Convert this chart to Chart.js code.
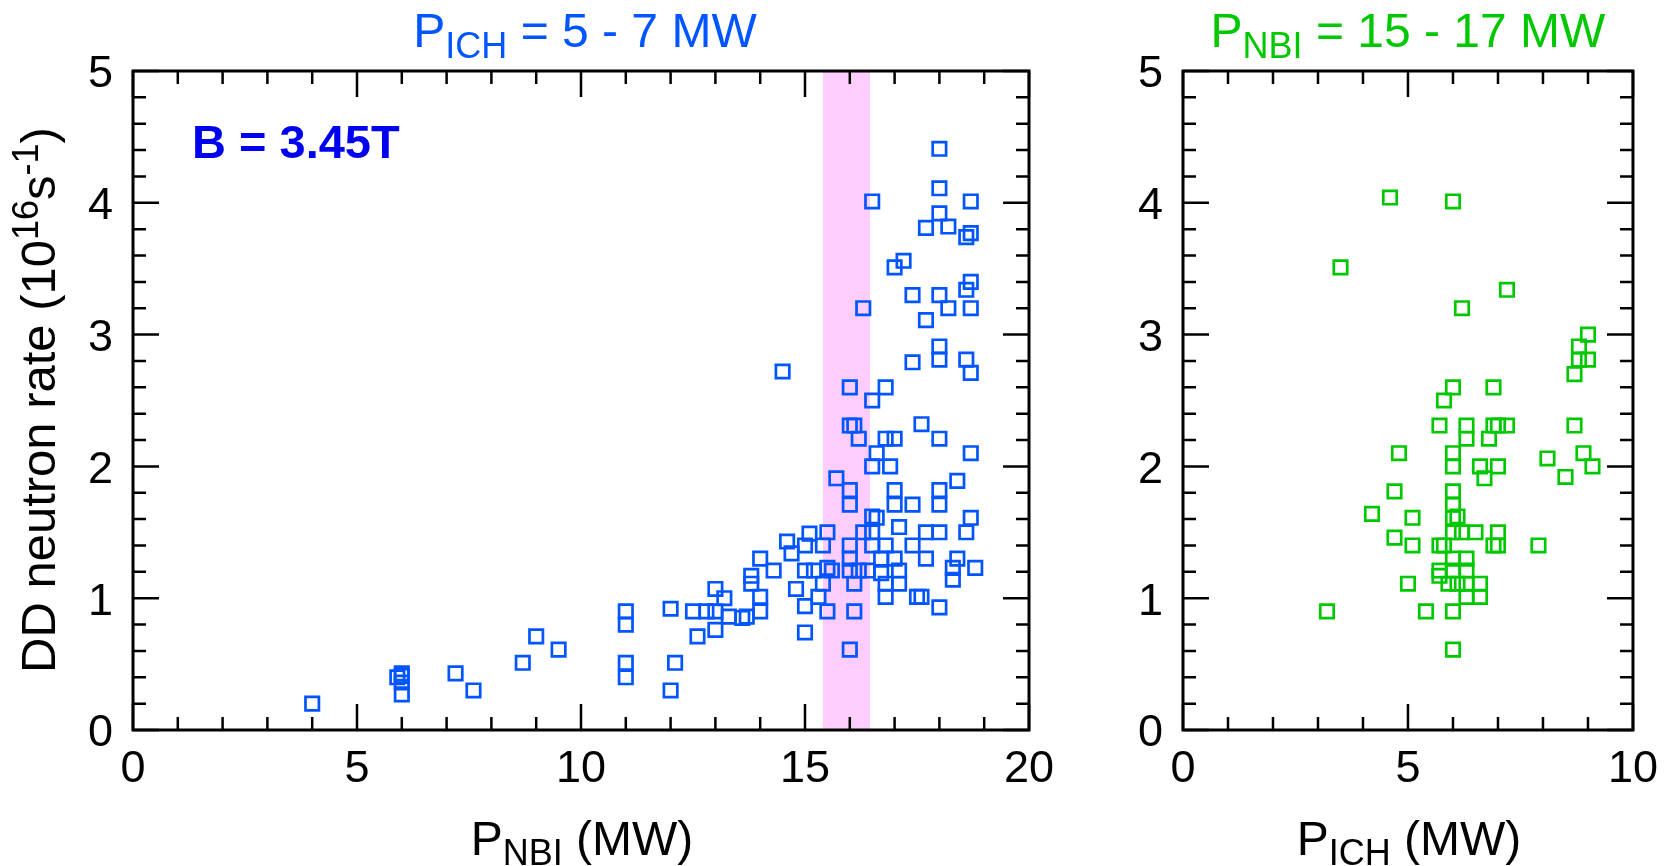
<!DOCTYPE html>
<html>
<head>
<meta charset="utf-8">
<script src="https://cdn.jsdelivr.net/npm/chart.js@4/dist/chart.umd.min.js"></script>
<style>
  html, body { margin: 0; padding: 0; background: #fff; }
  #wrap { position: relative; width: 1671px; height: 866px; }
  #left { position: absolute; left: 0; top: 0; }
  #right { position: absolute; left: 1080px; top: 0; }
</style>
</head>
<body>
<div id="wrap">
  <canvas id="left" width="1080" height="866"></canvas>
  <canvas id="right" width="591" height="866"></canvas>
</div>
<script>
// Left panel: P_ICH = 5 - 7 MW, neutron rate vs NBI power
const nbiPower = [
  4.0, 5.9, 6.0, 6.0, 6.0, 6.0, 7.2, 7.6, 8.7, 9.0, 9.5,
  11.0, 11.0, 11.0, 11.0, 12.0, 12.1, 12.0, 12.5, 12.6, 12.8,
  13.0, 13.0, 13.2, 13.0, 13.3, 13.6, 13.7, 13.8, 13.8, 14.0, 14.0, 14.0,
  14.3, 14.6, 14.7, 14.8, 15.0, 15.0, 15.0, 15.1, 15.0,
  15.5, 16.3, 16.5, 17.7, 18.0, 18.6,
  15.4, 16.0, 16.5, 16.8, 17.4,
  16.0, 16.7, 17.0, 17.7, 18.4,
  18.3, 18.8, 15.2, 15.5, 15.6, 16.0, 16.2, 16.4, 16.7, 17.1,
  16.8, 17.1, 18.3, 15.4, 16.1,
  15.3, 16.8, 17.5, 17.6,
  15.5, 16.1, 18.0, 16.0,
  16.5, 16.6, 17.1, 18.7,
  15.7, 16.0, 16.0, 17.0, 17.0, 17.4, 18.0, 18.0, 18.4,
  16.6, 16.5, 16.9, 18.7,
  16.2, 16.8, 17.0, 18.0, 17.6, 16.0, 16.1,
  16.5, 16.0, 16.8, 14.5,
  18.0, 18.0, 18.6, 18.7, 17.4,
  17.7, 18.2, 18.7, 16.3, 17.4, 18.0, 18.6, 18.7,
  17.0, 17.2, 18.6, 18.7, 17.7, 18.2, 18.0,
  16.5, 18.7, 18.0, 18.0
];
const nbiRate = [
  0.20, 0.40, 0.43, 0.41, 0.36, 0.27, 0.43, 0.30, 0.51, 0.71, 0.61,
  0.90, 0.80, 0.51, 0.40, 0.92, 0.51, 0.30, 0.90, 0.71, 0.90,
  1.07, 0.76, 1.00, 0.90, 0.86, 0.85, 0.86, 1.17, 1.11, 1.30, 1.01, 0.90,
  1.21, 1.43, 1.34, 1.07, 1.21, 0.94, 0.74, 1.49, 1.40,
  1.50, 1.50, 1.50, 1.50, 1.50, 1.50,
  1.40, 1.40, 1.40, 1.40, 1.40,
  1.30, 1.30, 1.30, 1.30, 1.30,
  1.23, 1.23, 1.21, 1.23, 1.21, 1.21, 1.21, 1.21, 1.19, 1.21,
  1.11, 1.11, 1.14, 1.11, 1.11,
  1.01, 1.01, 1.01, 1.01,
  0.90, 0.90, 0.93, 0.61,
  1.62, 1.61, 1.54, 1.61,
  1.91, 1.82, 1.71, 1.82, 1.71, 1.71, 1.82, 1.71, 1.89,
  2.10, 2.00, 2.00, 2.10,
  2.21, 2.21, 2.21, 2.21, 2.32, 2.31, 2.31,
  2.50, 2.60, 2.60, 2.72,
  2.91, 2.81, 2.81, 2.71, 2.79,
  3.11, 3.20, 3.20, 3.20, 3.30, 3.30, 3.34, 3.40,
  3.51, 3.56, 3.74, 3.77, 3.81, 3.82, 3.92,
  4.01, 4.01, 4.11, 4.41
];

// Right panel: P_NBI = 15 - 17 MW, neutron rate vs ICH power
const ichPower = [
  4.6, 6.0, 3.5, 7.2, 6.2, 9.0, 8.8, 8.8, 9.0, 8.7,
  6.0, 5.8, 6.9, 5.7, 6.3, 6.3, 6.9, 7.0, 7.2, 6.8, 8.7,
  4.8, 6.0, 6.0, 6.6, 6.7, 7.0, 8.1, 8.9, 9.1, 8.5,
  4.7, 6.0, 6.0, 4.2, 5.1, 6.0, 6.1,
  6.0, 6.2, 6.5, 7.0, 4.7, 5.1, 5.7, 5.8, 6.9, 7.0, 7.9,
  6.0, 6.3, 5.7, 5.7, 6.0, 6.3,
  5.0, 5.9, 6.1, 6.3, 6.6, 6.3, 6.6,
  3.2, 5.4, 6.0, 6.0
];
const ichRate = [
  4.04, 4.01, 3.51, 3.34, 3.20, 3.00, 2.91, 2.81, 2.81, 2.70,
  2.60, 2.50, 2.60, 2.31, 2.31, 2.21, 2.31, 2.31, 2.31, 2.21, 2.31,
  2.10, 2.10, 2.00, 2.00, 1.91, 2.00, 2.06, 2.10, 2.00, 1.92,
  1.81, 1.81, 1.71, 1.64, 1.61, 1.61, 1.62,
  1.50, 1.50, 1.50, 1.50, 1.46, 1.40, 1.40, 1.40, 1.40, 1.40, 1.40,
  1.30, 1.30, 1.21, 1.17, 1.21, 1.21,
  1.11, 1.11, 1.11, 1.11, 1.11, 1.01, 1.01,
  0.90, 0.90, 0.90, 0.61
];

// highlighted NBI window on the left panel (MW)
const nbiBand = [15.4, 16.45];

// axis ticks
const leftXMajor = [0, 5, 10, 15, 20];
const leftXMinor = [1, 2, 3, 4, 6, 7, 8, 9, 11, 12, 13, 14, 16, 17, 18, 19];
const rightXMajor = [0, 5, 10];
const rightXMinor = [1, 2, 3, 4, 6, 7, 8, 9];
const yMajor = [0, 1, 2, 3, 4, 5];
const yMinor = [0.2, 0.4, 0.6, 0.8, 1.2, 1.4, 1.6, 1.8, 2.2, 2.4, 2.6, 2.8,
                3.2, 3.4, 3.6, 3.8, 4.2, 4.4, 4.6, 4.8];

const FONT = '"Liberation Sans", Arial, Helvetica, sans-serif';
const BLUE = '#0055ff';
const GREEN = '#00c800';

function setFont(ctx, p) {
  ctx.font = (p.bold ? 'bold ' : '') + p.size + 'px ' + FONT;
}

// draw text made of pieces (for sub/superscripts)
function drawRich(ctx, parts, x, y, align) {
  let w = 0;
  for (const p of parts) { setFont(ctx, p); w += ctx.measureText(p.t).width; }
  let cx = align === 'center' ? x - w / 2 : x;
  ctx.textAlign = 'left';
  ctx.textBaseline = 'alphabetic';
  for (const p of parts) {
    setFont(ctx, p);
    ctx.fillText(p.t, cx, y + (p.dy || 0));
    cx += ctx.measureText(p.t).width;
  }
}

const decor = {
  id: 'decor',
  beforeDatasetsDraw(chart, args, o) {
    if (!o.band) return;
    const { ctx, chartArea: a, scales: { x } } = chart;
    const x1 = x.getPixelForValue(o.band[0]);
    const x2 = x.getPixelForValue(o.band[1]);
    ctx.save();
    ctx.fillStyle = '#fdcdfd';
    ctx.fillRect(x1, a.top, x2 - x1, a.bottom - a.top);
    ctx.restore();
  },
  afterDatasetsDraw(chart, args, o) {
    const { ctx, chartArea: a, scales: { x, y } } = chart;
    ctx.save();
    ctx.strokeStyle = '#000';
    ctx.lineWidth = 2.5;
    ctx.beginPath();
    const xt = o.xMajor.map(v => [v, 26]).concat(o.xMinor.map(v => [v, 13]));
    for (const [v, len] of xt) {
      const px = x.getPixelForValue(v);
      ctx.moveTo(px, a.bottom); ctx.lineTo(px, a.bottom - len);
      ctx.moveTo(px, a.top); ctx.lineTo(px, a.top + len);
    }
    const yt = yMajor.map(v => [v, 26]).concat(yMinor.map(v => [v, 13]));
    for (const [v, len] of yt) {
      const py = y.getPixelForValue(v);
      ctx.moveTo(a.left, py); ctx.lineTo(a.left + len, py);
      ctx.moveTo(a.right, py); ctx.lineTo(a.right - len, py);
    }
    ctx.stroke();
    ctx.lineWidth = 3;
    ctx.strokeRect(a.left, a.top, a.right - a.left, a.bottom - a.top);

    // titles
    const cx = (a.left + a.right) / 2;
    ctx.fillStyle = o.titleColor;
    drawRich(ctx, o.title, cx + o.titleShift, 47, 'center');
    ctx.fillStyle = '#000';
    drawRich(ctx, o.xTitle, cx + 1, 855, 'center');
    if (o.note) {
      ctx.fillStyle = '#0000f0';
      drawRich(ctx, [{ t: o.note, size: 47, bold: true }], 192, 158, 'left');
    }
    if (o.yTitle) {
      ctx.save();
      ctx.translate(55, 673);
      ctx.rotate(-Math.PI / 2);
      ctx.fillStyle = '#000';
      drawRich(ctx, o.yTitle, 0, 0, 'left');
      ctx.restore();
    }
    ctx.restore();
  }
};

function makePanel(id, xs, ys, color, xMax, xMajor, yWidth, padRight, decorOpts) {
  const pts = xs.map((v, i) => ({ x: v, y: ys[i] }));
  return new Chart(document.getElementById(id), {
    type: 'scatter',
    data: {
      datasets: [{
        data: pts,
        pointStyle: 'rect',
        radius: 9.5,
        hoverRadius: 9.5,
        borderWidth: 2.7,
        borderColor: color,
        backgroundColor: 'rgba(0,0,0,0)'
      }]
    },
    options: {
      responsive: false,
      animation: false,
      devicePixelRatio: 1,
      layout: { padding: { top: 71, right: padRight, left: 0, bottom: 0 } },
      plugins: { legend: { display: false }, tooltip: { enabled: false }, decor: decorOpts },
      scales: {
        x: {
          type: 'linear', min: 0, max: xMax,
          afterBuildTicks: s => { s.ticks = xMajor.map(v => ({ value: v })); },
          afterFit: s => { s.height = 136; },
          grid: { display: false, drawTicks: false },
          border: { display: false },
          ticks: { color: '#000', padding: 13, font: { family: FONT, size: 45 } }
        },
        y: {
          type: 'linear', min: 0, max: 5,
          afterBuildTicks: s => { s.ticks = yMajor.map(v => ({ value: v })); },
          afterFit: s => { s.width = yWidth; },
          grid: { display: false, drawTicks: false },
          border: { display: false },
          ticks: { color: '#000', padding: 20, labelOffset: 4, font: { family: FONT, size: 45 } }
        }
      }
    },
    plugins: [decor]
  });
}

makePanel('left', nbiPower, nbiRate, BLUE, 20, leftXMajor, 133, 51, {
  band: nbiBand,
  xMajor: leftXMajor, xMinor: leftXMinor,
  titleColor: BLUE, titleShift: 4,
  title: [{ t: 'P', size: 48 }, { t: 'ICH', size: 36, dy: 11 }, { t: ' = 5 - 7 MW', size: 48 }],
  xTitle: [{ t: 'P', size: 48 }, { t: 'NBI', size: 36, dy: 10 }, { t: ' (MW)', size: 48 }],
  note: 'B = 3.45T',
  yTitle: [
    { t: 'DD neutron rate (10', size: 49 },
    { t: '16', size: 36, dy: -17 },
    { t: 's', size: 49 },
    { t: '-1', size: 36, dy: -17 },
    { t: ')', size: 49 }
  ]
});

makePanel('right', ichPower, ichRate, GREEN, 10, rightXMajor, 103, 38, {
  xMajor: rightXMajor, xMinor: rightXMinor,
  titleColor: GREEN, titleShift: 0,
  title: [{ t: 'P', size: 48 }, { t: 'NBI', size: 36, dy: 11 }, { t: ' = 15 - 17 MW', size: 48 }],
  xTitle: [{ t: 'P', size: 48 }, { t: 'ICH', size: 36, dy: 10 }, { t: ' (MW)', size: 48 }]
});
</script>
</body>
</html>
